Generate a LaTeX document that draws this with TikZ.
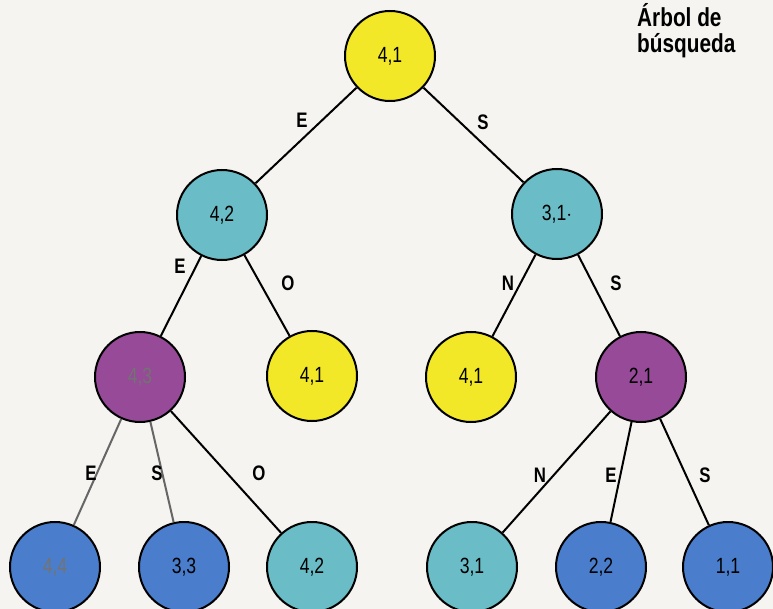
\documentclass[tikz,border=0pt]{standalone}
\usepackage{fontspec}
\setmainfont[FakeStretch=0.8]{Liberation Sans}
\usetikzlibrary{positioning}

\definecolor{paper}{RGB}{245,244,240}
\definecolor{yellowN}{RGB}{242,232,40}
\definecolor{tealN}{RGB}{106,188,198}
\definecolor{purpleN}{RGB}{150,74,152}
\definecolor{blueN}{RGB}{74,126,204}

\tikzset{
  nd/.style={circle, draw=black, line width=2pt, minimum size=90pt, inner sep=0pt,
    font=\fontsize{22}{24}\selectfont},
  edge/.style={line width=2pt, black},
  faded/.style={line width=2pt, black!60},
  lbl/.style={inner sep=0pt, font=\bfseries\fontsize{21}{23}\selectfont},
  ttl/.style={inner sep=0pt, align=left, font=\bfseries\fontsize{26}{26}\selectfont}
}

\begin{document}
\begin{tikzpicture}[x=1pt, y=-1pt]
  \fill[paper] (0,0) rectangle (773,609);
  \path[use as bounding box] (0,0) rectangle (773,609);

  % Create nodes
  \node[nd, fill=yellowN] (r) at (390,56) {4,1};
  \node[nd, fill=tealN] (a) at (222,215) {4,2};
  \node[nd, fill=tealN] (b) at (557,214) {3,1$\cdot$};
  \node[nd, fill=purpleN, text=black!55] (aa) at (140,377) {4,3};
  \node[nd, fill=yellowN] (ab) at (312,376) {4,1};
  \node[nd, fill=yellowN] (ba) at (471,377) {4,1};
  \node[nd, fill=purpleN] (bb) at (641,377) {2,1};
  \node[nd, fill=blueN, text=black!55] (aaa) at (55,567) {4,4};
  \node[nd, fill=blueN] (aab) at (184,567) {3,3};
  \node[nd, fill=tealN] (aac) at (312,567) {4,2};
  \node[nd, fill=tealN] (bba) at (472,567) {3,1};
  \node[nd, fill=blueN] (bbb) at (601,567) {2,2};
  \node[nd, fill=blueN] (bbc) at (728,567) {1,1};

  % Connections
  \foreach \p/\c in {r/a, r/b, a/aa, a/ab, b/ba, b/bb, aa/aac, bb/bba, bb/bbb, bb/bbc}
    \draw[edge] (\p) -- (\c);
  \draw[faded] (aa) -- (aaa);
  \draw[faded] (aa) -- (aab);

  % Moves
  \foreach \t/\x/\y [count=\i] in {E/302/120, S/483/122, E/180/266, O/288/283,
      N/508/283, S/616/283, E/91/473, S/157/473, O/259/473,
      N/540/475, E/611/475, S/705/475}
    \node[lbl] (m\i) at (\x,\y) {\t};

  \node[ttl, anchor=north west] (title) at (637,3) {Árbol de\\búsqueda};
\end{tikzpicture}
\end{document}
